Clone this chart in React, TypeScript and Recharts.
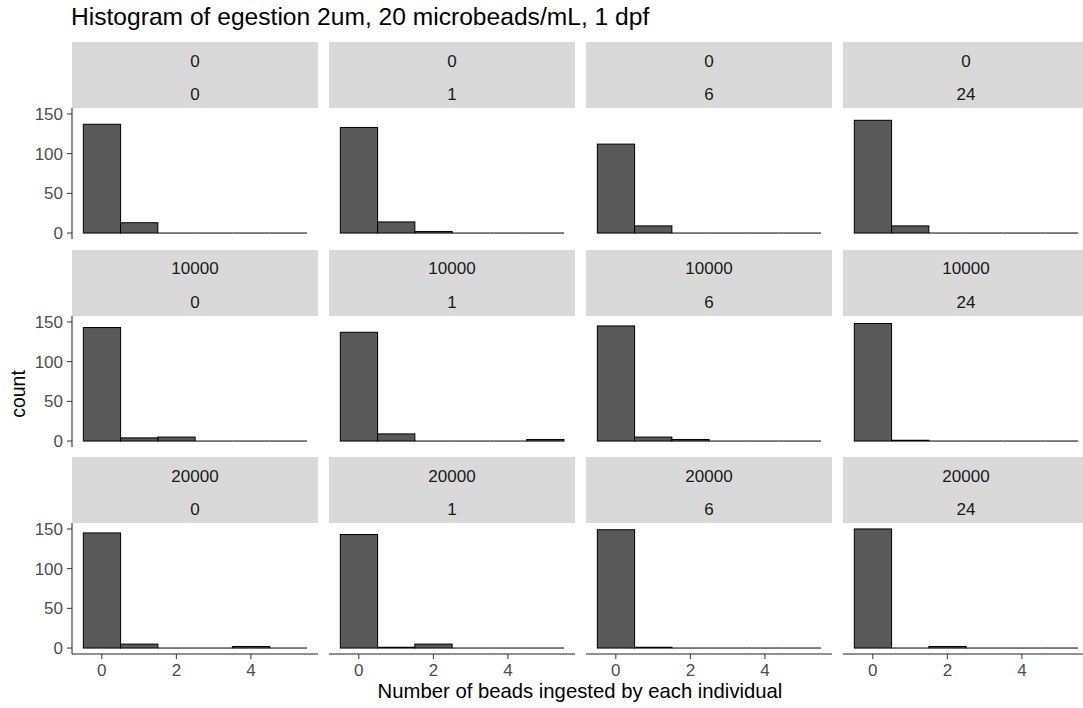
import React from "react";
import { Bar, BarChart, XAxis, YAxis } from "recharts";

const title = "Histogram of egestion 2um, 20 microbeads/mL, 1 dpf";
const concentrations = ["0", "10000", "20000"];
const timepoints = ["0", "1", "6", "24"];
const bins = [0, 1, 2, 3, 4, 5];

// counts per bin (0..5 beads), one row per concentration, one list per timepoint
const counts0 = [
  [137, 13, 0, 0, 0, 0],
  [133, 14, 2, 0, 0, 0],
  [112, 9, 0, 0, 0, 0],
  [142, 9, 0, 0, 0, 0],
];
const counts10000 = [
  [143, 4, 5, 0, 0, 0],
  [137, 9, 0, 0, 0, 2],
  [145, 5, 2, 0, 0, 0],
  [148, 1, 0, 0, 0, 0],
];
const counts20000 = [
  [145, 5, 0, 0, 2, 0],
  [143, 1, 5, 0, 0, 0],
  [149, 1, 0, 0, 0, 0],
  [150, 0, 2, 0, 0, 0],
];
const allCounts = [counts0, counts10000, counts20000];
const yTicks = [0, 50, 100, 150];
const xTicks = [0, 2, 4];

const FONT = "'Liberation Sans', Arial, sans-serif";
const PANEL_W = 246;
const PANEL_H = 131;
const STRIP_H = 66;
const COL_X = [72, 329, 586, 843];
const ROW_Y0 = 42;
const ROW_PITCH = 207.5;
const Y_AXIS_W = 72;
const X_AXIS_H = 40;
const PAD = 10; // room so tick labels at the panel edges are not clipped
const X_DOMAIN: [number, number] = [-0.8, 5.8];
const Y_DOMAIN: [number, number] = [-7.5, 157.5];
const BIN_PX = PANEL_W / (X_DOMAIN[1] - X_DOMAIN[0]); // one bin (width 1) in pixels

const HistBar = (props: any) => {
  const { x, y, width, height } = props;
  const cx = x + width / 2;
  const left = cx - BIN_PX / 2;
  if (!height || Math.abs(height) < 0.5) {
    return <line x1={left} x2={left + BIN_PX} y1={y} y2={y} stroke="#000" strokeWidth={1} />;
  }
  return <rect x={left} y={y} width={BIN_PX} height={height} fill="#595959" stroke="#000" strokeWidth={1} />;
};

function Panel({ row, col }: { row: number; col: number }) {
  const data = bins.map((b, i) => ({ beads: b, count: allCounts[row][col][i] }));
  const showY = col === 0;
  const showX = row === 2;
  const width = PANEL_W + (showY ? Y_AXIS_W : 0);
  const height = PANEL_H + PAD + (showX ? X_AXIS_H : PAD);
  const top = ROW_Y0 + row * ROW_PITCH + STRIP_H - PAD;
  const left = COL_X[col] - (showY ? Y_AXIS_W : 0);
  const tickStyle = { fill: "#4D4D4D", fontSize: 17, fontFamily: FONT };
  return (
    <div style={{ position: "absolute", left, top }}>
      <BarChart
        width={width}
        height={height}
        data={data}
        margin={{ top: PAD, right: 0, bottom: showX ? 0 : PAD, left: 0 }}
        barSize={BIN_PX}
        barCategoryGap={0}
        barGap={0}
      >
        <XAxis
          dataKey="beads"
          type="number"
          domain={X_DOMAIN}
          ticks={xTicks}
          interval={0}
          allowDataOverflow
          hide={!showX}
          height={X_AXIS_H}
          tick={tickStyle}
          tickSize={5}
          tickMargin={5}
          axisLine={{ stroke: "#222", strokeWidth: 1 }}
          tickLine={{ stroke: "#333" }}
        />
        <YAxis
          type="number"
          domain={Y_DOMAIN}
          ticks={yTicks}
          interval={0}
          allowDataOverflow
          hide={!showY}
          width={Y_AXIS_W}
          tick={tickStyle}
          tickSize={5}
          tickMargin={4}
          axisLine={{ stroke: "#222", strokeWidth: 1 }}
          tickLine={{ stroke: "#333" }}
        />
        <Bar dataKey="count" shape={HistBar} isAnimationActive={false} />
      </BarChart>
    </div>
  );
}

function Strip({ row, col }: { row: number; col: number }) {
  return (
    <div
      style={{
        position: "absolute",
        left: COL_X[col],
        top: ROW_Y0 + row * ROW_PITCH,
        width: PANEL_W,
        height: STRIP_H,
        background: "#D9D9D9",
        color: "#1A1A1A",
        fontFamily: FONT,
        fontSize: 17,
        lineHeight: "19px",
        textAlign: "center",
      }}
    >
      <div style={{ position: "absolute", top: 9.5, width: "100%" }}>{concentrations[row]}</div>
      <div style={{ position: "absolute", top: 43, width: "100%" }}>{timepoints[col]}</div>
    </div>
  );
}

export default function App() {
  const cells: React.ReactNode[] = [];
  concentrations.forEach((_, r) =>
    timepoints.forEach((_, c) => {
      cells.push(<Strip key={`s-${r}-${c}`} row={r} col={c} />);
      cells.push(<Panel key={`p-${r}-${c}`} row={r} col={c} />);
    })
  );
  return (
    <div style={{ position: "absolute", left: 0, top: 0, width: 1083, height: 708, overflow: "hidden", background: "#fff", fontFamily: FONT }}>
      <div style={{ position: "absolute", left: 71, top: 3, fontSize: 24.6, color: "#000", whiteSpace: "nowrap" }}>{title}</div>
      {cells}
      <div
        style={{
          position: "absolute",
          left: 18,
          top: 394,
          fontSize: 19.5,
          lineHeight: "22px",
          color: "#000",
          transform: "translate(-50%, -50%) rotate(-90deg)",
          transformOrigin: "center",
        }}
      >
        count
      </div>
      <div style={{ position: "absolute", left: 580, top: 680, fontSize: 20.3, color: "#000", transform: "translateX(-50%)", whiteSpace: "nowrap" }}>
        Number of beads ingested by each individual
      </div>
    </div>
  );
}
